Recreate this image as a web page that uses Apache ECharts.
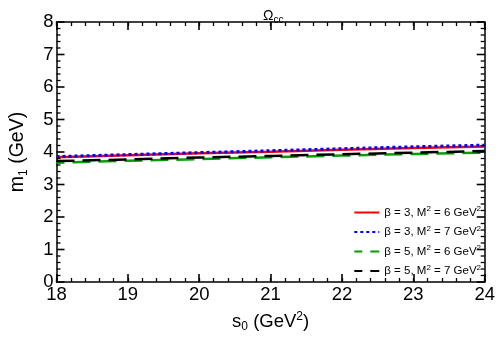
<!DOCTYPE html>
<html><head><meta charset="utf-8">
<script src="https://cdn.jsdelivr.net/npm/echarts@6/dist/echarts.min.js"></script>
<style>html,body{margin:0;padding:0;background:#fff}#c{width:498px;height:338px}</style>
</head><body><div id="c"></div>
<script>
const s0 = [18, 19, 20, 21, 22, 23, 24];
const b3M6 = [3.84, 3.90, 3.96, 4.01, 4.07, 4.12, 4.17];
const b3M7 = [3.86, 3.92, 3.98, 4.04, 4.10, 4.16, 4.21];
const b5M6 = [3.67, 3.73, 3.78, 3.84, 3.89, 3.94, 3.98];
const b5M7 = [3.72, 3.77, 3.83, 3.88, 3.93, 3.98, 4.03];
const yMajorTicks = [0, 1, 2, 3, 4, 5, 6, 7, 8];
const yMinorTicks = [0.2, 0.4, 0.6, 0.8, 1.2, 1.4, 1.6, 1.8, 2.2, 2.4, 2.6, 2.8, 3.2, 3.4, 3.6, 3.8,
                     4.2, 4.4, 4.6, 4.8, 5.2, 5.4, 5.6, 5.8, 6.2, 6.4, 6.6, 6.8, 7.2, 7.4, 7.6, 7.8];
const names = ['β = 3, M{s|2} = 6 GeV{s|2}', 'β = 3, M{s|2} = 7 GeV{s|2}', 'β = 5, M{s|2} = 6 GeV{s|2}', 'β = 5, M{s|2} = 7 GeV{s|2}'];
const legendNames = ['b3M6', 'b3M7', 'b5M6', 'b5M7'];
const font = 'Liberation Sans, Arial, sans-serif';
const chart = echarts.init(document.getElementById('c'));
function pairs(ys){ return s0.map((x,i)=>[x, ys[i]]); }
function tickAxis(min, max, step, pos, len, w){
  return {
    type:'value', min:min, max:max, interval:step, position:pos,
    axisLine:{show:false, onZero:false},
    axisTick:{show:true, inside:true, length:len, lineStyle:{color:'#000', width:w}},
    splitLine:{show:false}, axisLabel:{show:false}
  };
}
function yTickSeries(vals, len, w){
  return {
    type:'custom', silent:true, clip:false, z:5,
    data: vals.map(v => [s0[0], v]),
    encode:{x:0, y:1},
    renderItem:function(params, api){
      const v = api.value(1);
      const pL = api.coord([s0[0], v]);
      const pR = api.coord([s0[s0.length-1], v]);
      return {type:'group', children:[
        {type:'line', shape:{x1:pL[0], y1:pL[1], x2:pL[0]+len, y2:pL[1]}, style:{stroke:'#000', lineWidth:w}},
        {type:'line', shape:{x1:pR[0]-len, y1:pR[1], x2:pR[0], y2:pR[1]}, style:{stroke:'#000', lineWidth:w}}
      ]};
    }
  };
}
chart.setOption({
  animation:false,
  title:{text:'Ω{s|cc}', left:258, top:3, textStyle:{fontFamily:font, fontSize:14, fontWeight:'normal', color:'#000', rich:{s:{fontSize:10, padding:[7,0,0,0], fontFamily:font}}}},
  grid:{left:54, right:9, top:22, bottom:49},
  legend:{
    orient:'vertical', right:12, bottom:56, itemWidth:25, itemHeight:10, itemGap:6,
    data:legendNames, itemStyle:{opacity:0},
    formatter:function(n){ return names[legendNames.indexOf(n)]; },
    textStyle:{fontFamily:font, fontSize:11.5, color:'#000', rich:{s:{fontSize:8, padding:[0,0,7,0], fontFamily:font}}}
  },
  xAxis:[
    {type:'value', min:18, max:24, interval:1, position:'bottom',
      name:'s{b|0} (GeV{s|2})', nameLocation:'middle', nameGap:28,
      nameTextStyle:{fontFamily:font, fontSize:18.5, color:'#000', rich:{b:{fontSize:12, padding:[11,0,0,0], fontFamily:font}, s:{fontSize:12, padding:[0,0,10,0], fontFamily:font}}},
      axisLine:{show:true, onZero:false, lineStyle:{color:'#000', width:1.5}},
      axisTick:{show:true, inside:true, length:8, lineStyle:{color:'#000', width:1.6}},
      splitLine:{show:false},
      axisLabel:{show:true, fontFamily:font, fontSize:18.5, color:'#000', margin:3}},
    {type:'value', min:18, max:24, interval:1, position:'top',
      axisLine:{show:true, onZero:false, lineStyle:{color:'#000', width:1.5}},
      axisTick:{show:true, inside:true, length:8, lineStyle:{color:'#000', width:1.6}},
      splitLine:{show:false}, axisLabel:{show:false}},
    tickAxis(18, 24, 0.2, 'bottom', 4, 1.3),
    tickAxis(18, 24, 0.2, 'top', 4, 1.3)
  ],
  yAxis:[
    {type:'value', min:0, max:8, interval:1, position:'left',
      name:'m{b|1} (GeV)', nameLocation:'middle', nameGap:27,
      nameTextStyle:{fontFamily:font, fontSize:19.5, color:'#000', rich:{b:{fontSize:12, padding:[11,0,0,0], fontFamily:font}}},
      axisLine:{show:true, onZero:false, lineStyle:{color:'#000', width:1.5}},
      axisTick:{show:false},
      splitLine:{show:false},
      axisLabel:{show:true, fontFamily:font, fontSize:18.5, color:'#000', margin:3}},
    {type:'value', min:0, max:8, interval:1, position:'right',
      axisLine:{show:true, onZero:false, lineStyle:{color:'#000', width:1.5}},
      axisTick:{show:false},
      splitLine:{show:false}, axisLabel:{show:false}}
  ],
  series:[
    {name:'b3M6', type:'line', data:pairs(b3M6), symbol:'none', lineStyle:{color:'#ff0000', width:2.5, type:'solid'}, itemStyle:{color:'#ff0000'}, z:3},
    {name:'b3M7', type:'line', data:pairs(b3M7), symbol:'none', lineStyle:{color:'#0000ff', width:3, type:[3,3]}, itemStyle:{color:'#0000ff'}, z:4},
    {name:'b5M6', type:'line', data:pairs(b5M6), symbol:'none', lineStyle:{color:'#00a000', width:2.5, type:[18,8], dashOffset:10}, itemStyle:{color:'#00a000'}, z:2},
    {name:'b5M7', type:'line', data:pairs(b5M7), symbol:'none', lineStyle:{color:'#000000', width:2.5, type:[18,8]}, itemStyle:{color:'#000000'}, z:3},
    yTickSeries(yMajorTicks, 8, 1.6),
    yTickSeries(yMinorTicks, 4, 1.3)
  ]
});
</script></body></html>
